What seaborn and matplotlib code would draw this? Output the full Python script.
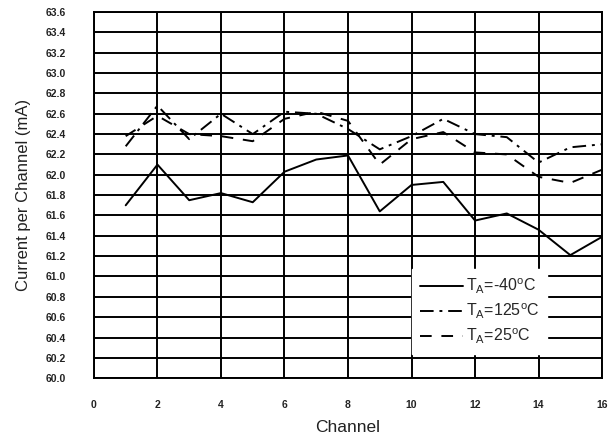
import numpy as np
import pandas as pd
import seaborn as sns
import matplotlib.pyplot as plt

channels = list(range(1, 17))
t_minus40 = [61.70, 62.10, 61.75, 61.82, 61.73, 62.03, 62.15, 62.19,
             61.64, 61.90, 61.93, 61.55, 61.62, 61.46, 61.21, 61.39]
t_125 = [62.28, 62.68, 62.35, 62.60, 62.40, 62.62, 62.60, 62.45,
         62.25, 62.38, 62.55, 62.40, 62.37, 62.12, 62.27, 62.30]
t_25 = [62.38, 62.58, 62.40, 62.38, 62.33, 62.55, 62.62, 62.53,
        62.10, 62.35, 62.42, 62.22, 62.20, 61.98, 61.92, 62.05]

names = [r'T$_\mathregular{A}$=-40$^\mathregular{o}$C',
         r'T$_\mathregular{A}$=125$^\mathregular{o}$C',
         r'T$_\mathregular{A}$=25$^\mathregular{o}$C']

df = pd.DataFrame({
    'Channel': channels * 3,
    'Current': t_minus40 + t_125 + t_25,
    'Temp': [names[0]] * 16 + [names[1]] * 16 + [names[2]] * 16,
})

sns.set_style('white')
plt.rcParams['font.family'] = ['Liberation Sans', 'DejaVu Sans']
plt.rcParams['mathtext.fontset'] = 'custom'
plt.rcParams['mathtext.rm'] = 'Liberation Sans'

fig = plt.figure(figsize=(6.1, 4.46), dpi=100)
ax = fig.add_axes([0.154, 0.152, 0.833, 0.821])

sns.lineplot(data=df, x='Channel', y='Current', style='Temp', hue='Temp',
             palette=['black'] * 3, style_order=names, hue_order=names,
             dashes={names[0]: '', names[1]: (7, 3, 1.5, 3), names[2]: (6, 5)},
             linewidth=1.4, ax=ax, zorder=3)

ax.set_xlim(0, 16)
ax.set_ylim(60.0, 63.6)
ax.set_xticks(np.arange(0, 17, 2))
ax.set_yticks(np.round(np.arange(60.0, 63.61, 0.2), 1))
ax.set_yticklabels([f'{v:.1f}' for v in np.arange(60.0, 63.61, 0.2)])
ax.grid(True, color='black', linewidth=1.4)
for s in ax.spines.values():
    s.set_color('black')
    s.set_linewidth(1.4)
ax.tick_params(axis='y', length=0, labelsize=7.5, pad=20)
ax.tick_params(axis='x', length=0, labelsize=7.5, pad=16)
for lab in ax.get_xticklabels() + ax.get_yticklabels():
    lab.set_fontweight('bold')
    lab.set_color('#222222')

ax.set_xlabel('Channel', fontsize=12.5, color='#222222', labelpad=7)
ax.set_ylabel('Current per Channel (mA)', fontsize=12, color='#222222', labelpad=11)

handles, labels = ax.get_legend_handles_labels()
leg = ax.legend(handles, labels, loc='center', bbox_to_anchor=(12.14, 60.655),
                bbox_transform=ax.transData, frameon=True, framealpha=1,
                edgecolor='white', fancybox=False, fontsize=11.5,
                handlelength=2.7, handletextpad=0.2, labelspacing=0.35,
                borderpad=0.5)
leg.set_zorder(5)

plt.savefig('out.png', dpi=100)
